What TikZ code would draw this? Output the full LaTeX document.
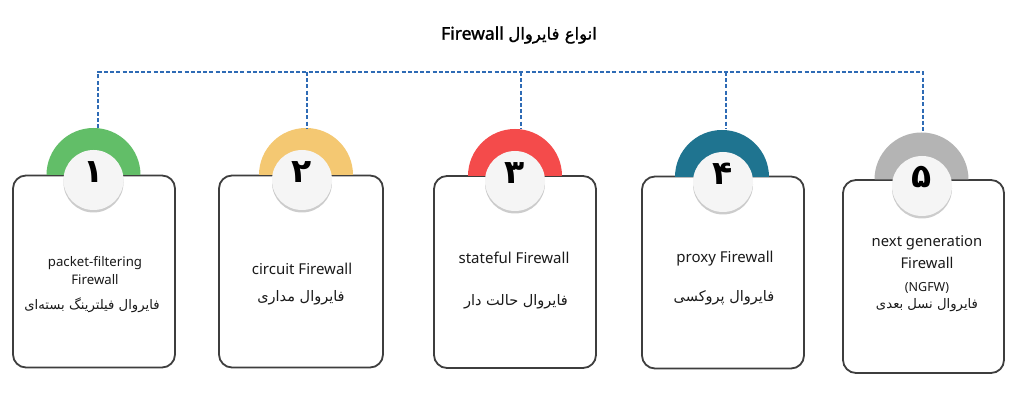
\documentclass[tikz,border=0pt]{standalone}
\usepackage{fontspec}
\setmainfont{Noto Sans}
\newfontfamily\fa[Script=Arabic]{DejaVu Sans}
\newfontfamily\fab[Script=Arabic,FakeBold=1.2]{DejaVu Sans}
\newfontfamily\titlefont[FakeBold=1.4]{Noto Sans}
\TeXXeTstate=1
\usetikzlibrary{shadows}
\definecolor{cgreen}{HTML}{62BE68}
\definecolor{cyellow}{HTML}{F4C872}
\definecolor{cred}{HTML}{F44B4B}
\definecolor{cteal}{HTML}{1F7490}
\definecolor{cgrey}{HTML}{B4B4B4}
\definecolor{cline}{HTML}{2E6BB5}
\definecolor{cborder}{HTML}{3E3E3E}
\definecolor{ctext}{HTML}{1A1A1A}
\begin{document}
\begin{tikzpicture}[x=1pt,y=1pt,
  card/.style={draw=cborder, line width=1.8pt, fill=white, rounded corners=13pt,
    minimum width=162pt, minimum height=192pt, inner sep=0pt},
  badge/.style={circle, fill=white!96!black, minimum size=60pt, inner sep=0pt,
    drop shadow={opacity=0.2, shadow xshift=0pt, shadow yshift=-2.5pt, fill=black}},
  numtxt/.style={font=\fa\bfseries\fontsize{33}{33}\selectfont, text=black, inner sep=0pt, anchor=base},
  entxt/.style={font=\fontsize{15}{17}\selectfont, text=ctext, inner sep=0pt},
  fatxt/.style={font=\fa\fontsize{14.5}{17}\selectfont, text=ctext, inner sep=0pt},
  conn/.style={draw=cline, line width=1.1pt, dash pattern=on 4pt off 2.2pt}]
\useasboundingbox (0,0) rectangle (1024,403);
\fill[white] (0,0) rectangle (1024,403);

% title
\node[inner sep=0pt, text=black, font=\titlefont\fontsize{17.5}{19}\selectfont] (title) at (519,368)
  {Firewall {\fab\fontsize{16.5}{19}\selectfont\beginR انواع فایروال\endR}};

% cards
\node[card] (c1) at (94,131.5) {};
\node[card, minimum width=164pt] (c2) at (301,131.5) {};
\node[card] (c3) at (515,131) {};
\node[card] (c4) at (723,130.5) {};
\node[card, minimum width=161pt, minimum height=193pt] (c5) at (923.5,126.5) {};

% rings (half disks behind the badges)
\coordinate (r1) at (93.5,228);
\coordinate (r2) at (306,228);
\coordinate (r3) at (515,227);
\coordinate (r4) at (722,226);
\coordinate (r5) at (921.5,223.5);
\foreach \r/\c in {r1/cgreen, r2/cyellow, r3/cred, r4/cteal, r5/cgrey}{
  \fill[\c] (\r) ++(47,0) arc[start angle=0, end angle=180, radius=47] -- cycle;
}

% badges
\node[badge] (b1) at (93.5,223) {};
\node[badge] (b2) at (302,223) {};
\node[badge] (b3) at (515,222) {};
\node[badge] (b4) at (723,221) {};
\node[badge] (b5) at (922,217) {};
\node[numtxt] (n1) at (93.5,220) {۱};
\node[numtxt] (n2) at (302,220) {۲};
\node[numtxt] (n3) at (515,219) {۳};
\node[numtxt] (n4) at (723,218) {۴};
\node[numtxt] (n5) at (922,215) {۵};

% connectors
\coordinate (t1) at (98,275);
\coordinate (t2) at (307,275);
\coordinate (t3) at (521,275);
\coordinate (t4) at (726,274);
\coordinate (t5) at (923,270);
\coordinate (h1) at (98,331);
\coordinate (h2) at (307,331);
\coordinate (h3) at (521,331);
\coordinate (h4) at (726,331);
\coordinate (h5) at (923,331);
\draw[conn] (t1) -- (h1) -- (h5) -- (t5);
\draw[conn] (h2) -- (t2);
\draw[conn] (h3) -- (t3);
\draw[conn] (h4) -- (t4);

% texts
\node[entxt, font=\fontsize{13.2}{15}\selectfont] (e1a) at (95,140) {packet-filtering};
\node[entxt, font=\fontsize{13.2}{15}\selectfont] (e1b) at (95,123) {Firewall};
\node[fatxt, font=\fa\fontsize{13.2}{15}\selectfont] (f1) at (92,98) {\beginR فایروال فیلترینگ بسته‌ای\endR};

\node[entxt] (e2) at (302,134) {circuit Firewall};
\node[fatxt] (f2) at (301,105) {\beginR فایروال مداری\endR};

\node[entxt] (e3) at (514,145) {stateful Firewall};
\node[fatxt] (f3) at (516,101) {\beginR فایروال حالت دار\endR};

\node[entxt] (e4) at (725,144) {proxy Firewall};
\node[fatxt] (f4) at (724,105) {\beginR فایروال پروکسی\endR};

\node[entxt, font=\fontsize{14.8}{16}\selectfont] (e5a) at (927,160) {next generation};
\node[entxt, font=\fontsize{14.8}{16}\selectfont] (e5b) at (927,140) {Firewall};
\node[entxt, font=\fontsize{12.5}{14}\selectfont] (e5c) at (927,115) {(NGFW)};
\node[fatxt, font=\fa\fontsize{13.2}{15}\selectfont] (f5) at (927,98) {\beginR فایروال نسل بعدی\endR};
\end{tikzpicture}
\end{document}
